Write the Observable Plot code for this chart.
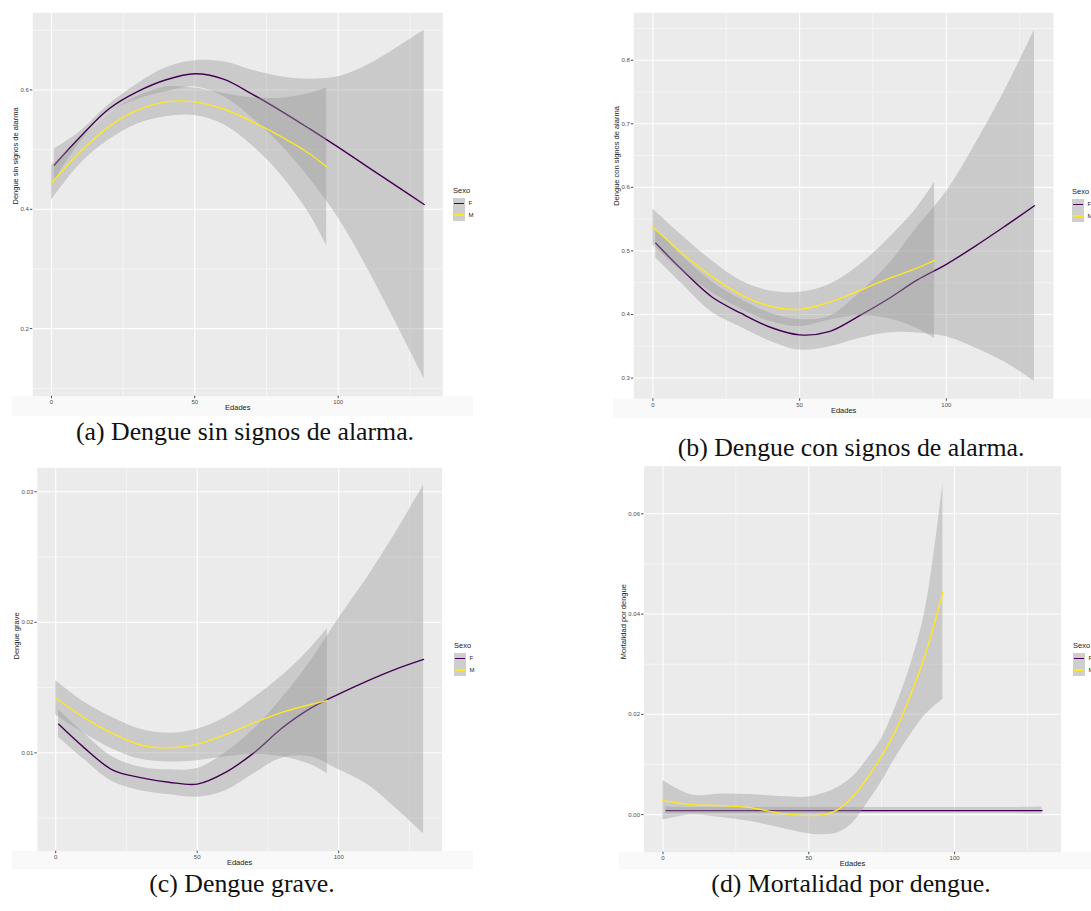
<!DOCTYPE html>
<html><head><meta charset="utf-8">
<script src="https://cdn.jsdelivr.net/npm/d3@7"></script>
<script src="https://cdn.jsdelivr.net/npm/@observablehq/plot@0.6"></script>
<style>
body{margin:0;background:#fff;width:1091px;height:911px;overflow:hidden;position:relative;font-family:"Liberation Sans",Arial,sans-serif;}
.pan{position:absolute;}
.cap{position:absolute;font-family:"Liberation Serif","Times New Roman",serif;font-size:25.8px;color:#111;white-space:nowrap;transform:translate(-50%,-50%);line-height:1;}
.band{position:absolute;background:#f9f9f9;}
.lt{position:absolute;font-size:7.5px;color:#1a1a1a;transform:translateY(-50%);line-height:1;white-space:nowrap;}
.ll{position:absolute;font-size:6px;color:#1a1a1a;transform:translateY(-50%);line-height:1;}
.lk{position:absolute;background:#CECECE;}
.kl{position:absolute;height:1.4px;}
</style></head><body>
<script>
// ---- data ----
const sexos = ["F", "M"];
const colores = ["#440154", "#FDE725"];
const edadF = [1, 10, 20, 30, 40, 50, 60, 70, 80, 90, 100, 110, 120, 130];
const edadM = [0, 10, 20, 30, 40, 50, 60, 70, 80, 90, 96];
const edadM_d = [0, 10, 20, 30, 40, 50, 55, 60, 65, 70, 75, 80, 85, 90, 96];
const xTicks = [0, 50, 100];
const xMinor = [25, 75, 125];

// (a) Dengue sin signos de alarma
const a_F_fit = [0.474, 0.521, 0.568, 0.597, 0.617, 0.627, 0.618, 0.593, 0.565, 0.535, 0.504, 0.472, 0.440, 0.408];
const a_F_hi  = [0.501, 0.530, 0.575, 0.610, 0.637, 0.649, 0.647, 0.633, 0.622, 0.618, 0.622, 0.641, 0.669, 0.700];
const a_F_lo  = [0.447, 0.512, 0.561, 0.584, 0.597, 0.605, 0.589, 0.553, 0.508, 0.452, 0.386, 0.303, 0.211, 0.116];
const a_M_fit = [0.444, 0.496, 0.538, 0.566, 0.580, 0.580, 0.568, 0.547, 0.522, 0.493, 0.471];
const a_M_hi  = [0.473, 0.516, 0.560, 0.589, 0.605, 0.603, 0.594, 0.587, 0.586, 0.594, 0.603];
const a_M_lo  = [0.415, 0.476, 0.516, 0.543, 0.555, 0.557, 0.542, 0.507, 0.458, 0.392, 0.339];
const a_yTicks = [0.2, 0.4, 0.6];
const a_yMinor = [0.1, 0.3, 0.5, 0.7];

// (b) Dengue con signos de alarma
const b_F_fit = [0.512, 0.470, 0.428, 0.402, 0.380, 0.368, 0.373, 0.397, 0.424, 0.454, 0.479, 0.508, 0.539, 0.571];
const b_F_hi  = [0.535, 0.492, 0.452, 0.424, 0.402, 0.392, 0.397, 0.432, 0.477, 0.537, 0.593, 0.669, 0.753, 0.847];
const b_F_lo  = [0.489, 0.448, 0.404, 0.380, 0.358, 0.344, 0.349, 0.362, 0.371, 0.371, 0.365, 0.347, 0.325, 0.295];
const b_M_fit = [0.538, 0.496, 0.460, 0.431, 0.413, 0.408, 0.419, 0.437, 0.456, 0.473, 0.485];
const b_M_hi  = [0.566, 0.524, 0.485, 0.453, 0.437, 0.435, 0.447, 0.476, 0.518, 0.568, 0.608];
const b_M_lo  = [0.510, 0.468, 0.435, 0.409, 0.389, 0.381, 0.391, 0.398, 0.394, 0.378, 0.362];
const b_yTicks = [0.3, 0.4, 0.5, 0.6, 0.7, 0.8];
const b_yMinor = [0.35, 0.45, 0.55, 0.65, 0.75, 0.85];

// (c) Dengue grave
const c_F_fit = [0.0122, 0.0104, 0.0087, 0.0081, 0.00775, 0.0076, 0.0085, 0.0100, 0.0119, 0.0134, 0.0145, 0.0155, 0.0164, 0.01716];
const c_F_hi  = [0.0133, 0.0115, 0.0097, 0.0089, 0.0087, 0.0088, 0.0100, 0.0118, 0.0142, 0.0170, 0.0203, 0.0234, 0.0268, 0.0305];
const c_F_lo  = [0.0112, 0.0095, 0.0078, 0.0071, 0.0068, 0.0066, 0.0071, 0.0084, 0.0096, 0.0097, 0.0087, 0.0076, 0.0058, 0.0038];
const c_M_fit = [0.0142, 0.0127, 0.0115, 0.0106, 0.01038, 0.01065, 0.0114, 0.0123, 0.0131, 0.0137, 0.0140];
const c_M_hi  = [0.01555, 0.0139, 0.0127, 0.0118, 0.0115, 0.0118, 0.0127, 0.0142, 0.0159, 0.0180, 0.0195];
const c_M_lo  = [0.0129, 0.0115, 0.0103, 0.0095, 0.0093, 0.0094, 0.0097, 0.0099, 0.0097, 0.0091, 0.0084];
const c_yTicks = [0.01, 0.02, 0.03];
const c_yMinor = [0.005, 0.015, 0.025];

// (d) Mortalidad por dengue
const d_F_fit = [0.0008, 0.0008, 0.0008, 0.0008, 0.0008, 0.0008, 0.0008, 0.0008, 0.0008, 0.0008, 0.0008, 0.0008, 0.0008, 0.0008];
const d_F_hi  = [0.0015, 0.0014, 0.0014, 0.0014, 0.0014, 0.0014, 0.0014, 0.0014, 0.0014, 0.0014, 0.0014, 0.0014, 0.0014, 0.0015];
const d_F_lo  = [0.0001, 0.0002, 0.0002, 0.0002, 0.0002, 0.0002, 0.0002, 0.0002, 0.0002, 0.0002, 0.0002, 0.0002, 0.0002, 0.0001];
const d_M_fit = [0.0028, 0.0020, 0.0018, 0.0014, 0.0003, -0.0002, 0.0000, 0.0010, 0.0035, 0.0072, 0.0117, 0.0170, 0.0240, 0.0320, 0.0443];
const d_M_hi  = [0.0068, 0.0039, 0.0041, 0.0040, 0.0036, 0.0035, 0.0042, 0.0054, 0.0075, 0.0110, 0.0152, 0.0218, 0.0300, 0.0410, 0.0660];
const d_M_lo  = [-0.0011, -0.0001, -0.0006, -0.0014, -0.0026, -0.0038, -0.0040, -0.0036, -0.0017, 0.0022, 0.0066, 0.0116, 0.0160, 0.0199, 0.0230];
const d_yTicks = [0.00, 0.02, 0.04, 0.06];
const d_yMinor = [0.01, 0.03, 0.05];

// ---- helpers ----
const tbl = (xs, fit, lo, hi) => xs.map((x, i) => ({x, fit: fit[i], lo: lo[i], hi: hi[i]}));
function expand(arrs) {
  const all = arrs.flat();
  const lo = d3.min(all), hi = d3.max(all), r = hi - lo;
  return [lo - 0.05 * r, hi + 0.05 * r];
}

function panel(cfg) {
  const F = cfg.F, M = cfg.M;
  const ydom = expand([F.map(d => d.lo), F.map(d => d.hi), M.map(d => d.lo), M.map(d => d.hi)]);
  const xdom = expand([[0, 130]]);
  const white = {stroke: "white", strokeOpacity: 1};
  const chart = Plot.plot({
    width: cfg.width, height: cfg.height,
    marginLeft: cfg.ml, marginRight: cfg.mr, marginTop: cfg.mt, marginBottom: cfg.mb,
    x: {domain: xdom},
    y: {domain: ydom},
    style: {background: "transparent", fontFamily: "Liberation Sans, Arial, sans-serif", overflow: "visible"},
    marks: [
      Plot.frame({fill: "#EBEBEB", stroke: "none"}),
      Plot.gridY(cfg.yMinor, {...white, strokeWidth: 0.5}),
      Plot.gridX(xMinor, {...white, strokeWidth: 0.5}),
      Plot.gridY(cfg.yTicks, {...white, strokeWidth: 1.05}),
      Plot.gridX(xTicks, {...white, strokeWidth: 1.05}),
      Plot.areaY(F, {x: "x", y1: "lo", y2: "hi", fill: "#999999", fillOpacity: 0.4, curve: "catmull-rom"}),
      Plot.line(F, {x: "x", y: "fit", stroke: colores[0], strokeWidth: 1.4, curve: "catmull-rom"}),
      Plot.areaY(M, {x: "x", y1: "lo", y2: "hi", fill: "#999999", fillOpacity: 0.4, curve: "catmull-rom"}),
      Plot.line(M, {x: "x", y: "fit", stroke: colores[1], strokeWidth: 1.4, curve: "catmull-rom"}),
      Plot.axisX(xTicks, {tickSize: 2.5, tickPadding: 1.5, fontSize: 6, color: "#4d4d4d", label: null}),
      Plot.axisY(cfg.yTicks, {tickSize: 2.5, tickPadding: 1.5, fontSize: 6, color: "#4d4d4d", label: null, tickFormat: d3.format(cfg.yFmt)}),
      Plot.text(["Edades"], {text: d => d, frameAnchor: "bottom", dy: 14, fontSize: 7.5, fill: "#1a1a1a"}),
      Plot.text([cfg.ylab], {text: d => d, frameAnchor: "left", rotate: -90, dx: cfg.ylabDx, fontSize: 7.5, fill: "#1a1a1a"})
    ]
  });
  const wrap = document.createElement("div");
  wrap.className = "pan";
  wrap.style.left = cfg.left + "px";
  wrap.style.top = cfg.top + "px";
  wrap.appendChild(chart);
  document.body.appendChild(wrap);
}

function band(x, y, w, h) {
  const b = document.createElement("div");
  b.className = "band";
  Object.assign(b.style, {left: x + "px", top: y + "px", width: w + "px", height: h + "px"});
  document.body.appendChild(b);
}

function legend(x, yTitle, yKeys) {
  const add = (cls, txt, st) => {
    const e = document.createElement("div");
    e.className = cls;
    if (txt) e.textContent = txt;
    Object.assign(e.style, st);
    document.body.appendChild(e);
  };
  add("lt", "Sexo", {left: x + "px", top: yTitle + "px"});
  add("lk", "", {left: x + "px", top: yKeys + "px", width: "11.5px", height: "23.5px"});
  sexos.forEach((s, i) => {
    const cy = yKeys + 5.9 + i * 11.75;
    add("kl", "", {left: (x + 1) + "px", top: (cy - 0.7) + "px", width: "9.5px", background: colores[i]});
    add("ll", s, {left: (x + 15.5) + "px", top: cy + "px"});
  });
}

function caption(txt, cx, cy) {
  const c = document.createElement("div");
  c.className = "cap";
  c.textContent = txt;
  c.style.left = cx + "px";
  c.style.top = cy + "px";
  document.body.appendChild(c);
}

// faint strips behind x-axis text
band(12, 396, 461, 20);
band(613, 399, 478, 19);
band(12, 851, 461, 18);
band(619, 852, 472, 17);

panel({left: 0, top: 0, width: 460, height: 420, ml: 32.3, mr: 17.7, mt: 12.3, mb: 24.3,
  F: tbl(edadF, a_F_fit, a_F_lo, a_F_hi), M: tbl(edadM, a_M_fit, a_M_lo, a_M_hi),
  yTicks: a_yTicks, yMinor: a_yMinor, yFmt: ".1f", ylab: "Dengue sin signos de alarma", ylabDx: -17.3});
panel({left: 580, top: 0, width: 490, height: 425, ml: 53.3, mr: 17, mt: 12.3, mb: 26.7,
  F: tbl(edadF, b_F_fit, b_F_lo, b_F_hi), M: tbl(edadM, b_M_fit, b_M_lo, b_M_hi),
  yTicks: b_yTicks, yMinor: b_yMinor, yFmt: ".1f", ylab: "Dengue con signos de alarma", ylabDx: -17.3});
panel({left: 0, top: 455, width: 460, height: 420, ml: 36.8, mr: 18.5, mt: 12.3, mb: 24.3,
  F: tbl(edadF, c_F_fit, c_F_lo, c_F_hi), M: tbl(edadM, c_M_fit, c_M_lo, c_M_hi),
  yTicks: c_yTicks, yMinor: c_yMinor, yFmt: ".2f", ylab: "Dengue grave", ylabDx: -20.8});
panel({left: 580, top: 455, width: 490, height: 420, ml: 63.5, mr: 9.5, mt: 10.7, mb: 23.3,
  F: tbl(edadF, d_F_fit, d_F_lo, d_F_hi), M: tbl(edadM_d, d_M_fit, d_M_lo, d_M_hi),
  yTicks: d_yTicks, yMinor: d_yMinor, yFmt: ".2f", ylab: "Mortalidad por dengue", ylabDx: -20.8});

legend(453, 190.7, 197.5);
legend(1072, 192, 198.5);
legend(454, 646, 652.5);
legend(1073, 646, 652.5);

caption("(a) Dengue sin signos de alarma.", 245, 432);
caption("(b) Dengue con signos de alarma.", 851, 448);
caption("(c) Dengue grave.", 242, 884);
caption("(d) Mortalidad por dengue.", 851, 884);
</script>
</body></html>
